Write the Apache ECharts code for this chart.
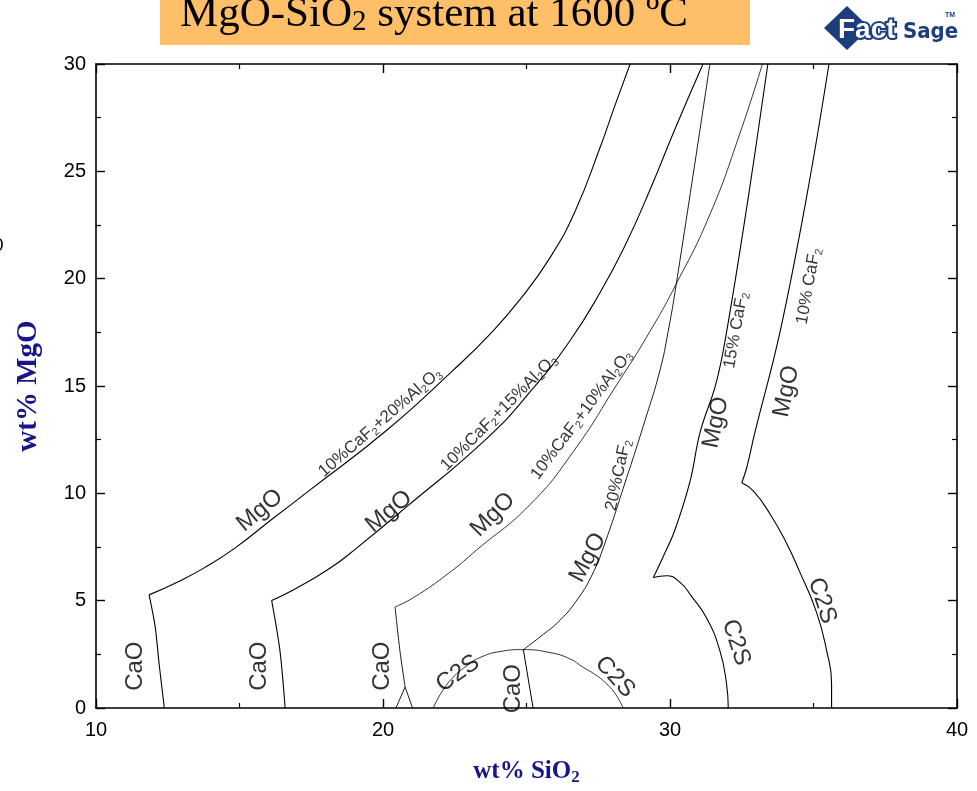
<!DOCTYPE html>
<html>
<head>
<meta charset="utf-8">
<title>MgO-SiO2 system at 1600 ºC</title>
<script src="https://cdn.jsdelivr.net/npm/echarts/dist/echarts.min.js"></script>
<style>
  html, body { margin: 0; padding: 0; background: #fff; }
  #chart { width: 977px; height: 791px; }
</style>
</head>
<body>
<div id="chart"></div>
<script>
// Axis ticks
const xTicks = [10, 20, 30, 40];   // wt% SiO2
const yTicks = [0, 5, 10, 15, 20, 25, 30]; // wt% MgO

// Phase boundaries, points are [wt% SiO2, wt% MgO]
// 10% CaF2 + 20% Al2O3
const al20CaO = [[12.38, 0], [12.2, 2.05], [12.06, 3.8], [11.85, 5.27]];
const al20MgO = [[11.85, 5.27], [12.81, 5.85], [13.8, 6.55], [14.84, 7.45], [16.13, 8.79],
  [17.46, 10.16], [20.14, 12.95], [22.44, 15.73], [23.73, 17.42], [24.77, 19.02],
  [25.82, 20.98], [26.69, 23.13], [27.56, 26.1], [28.08, 28.06], [28.61, 30]];
// 10% CaF2 + 15% Al2O3
const al15CaO = [[16.59, 0], [16.41, 2.66], [16.12, 5.01]];
const al15MgO = [[16.12, 5.01], [16.87, 5.5], [18.15, 6.51], [19.08, 7.45], [20.83, 9.38],
  [23.61, 12.55], [25.24, 14.91], [26.52, 17.12], [27.56, 19.34], [28.43, 21.53],
  [29.3, 24.13], [30.17, 26.96], [31.15, 30]];
// 10% CaF2 + 10% Al2O3
const al10CaO = [[20.42, 4.71], [20.59, 2.66], [20.77, 0.98]];
const al10Foot = [[20.45, 0], [20.77, 0.98], [21.03, 0]];
const al10MgO = [[20.42, 4.71], [21.06, 5.14], [22.33, 6.32], [23.27, 7.37], [25.12, 9.47],
  [26.63, 11.94], [28.14, 15.05], [29.19, 17.29], [30.23, 19.79], [31.39, 22.99],
  [32.44, 26.78], [33.22, 30]];
// 20% CaF2
const f20MgO = [[31.39, 30], [30.23, 19.85], [29.93, 17.5], [29.65, 15.73], [29.13, 13.4],
  [28.43, 10.48], [27.7, 7.56], [27.28, 6.19], [26.79, 5.09], [26.17, 4.09], [25.47, 3.31],
  [24.89, 2.72]];
const f20C2S = [[21.75, 0], [22.05, 0.75], [22.45, 1.44], [22.9, 1.95], [23.38, 2.35],
  [24.08, 2.63], [24.89, 2.72], [25.82, 2.58], [26.5, 2.3], [26.98, 1.89], [27.4, 1.55],
  [27.79, 1.13], [28.1, 0.65], [28.37, 0]];
const f20CaO = [[24.89, 2.72], [25.23, 0]];
// 15% CaF2
const f15MgO = [[33.41, 30], [32.73, 23.81], [31.97, 17.5], [31.6, 15.1], [31.05, 12.85],
  [30.7, 10.57], [30.17, 8.29], [29.77, 7.07], [29.42, 6.08]];
const f15C2S = [[29.42, 6.08], [29.88, 6.16], [30.35, 5.85], [30.75, 5.2], [31.28, 4.18],
  [31.74, 2.66], [31.97, 1.13], [32.03, 0]];
// 10% CaF2
const f10MgO = [[35.54, 30], [34.76, 23.81], [33.83, 17.5], [32.96, 12.85], [32.67, 11.18],
  [32.5, 10.49]];
const f10C2S = [[32.5, 10.49], [32.9, 10.11], [33.48, 9.05], [34.06, 7.68], [34.5, 6.4],
  [35.1, 4.48], [35.46, 2.66], [35.63, 1.13], [35.63, 0]];

// Field and composition labels: text, anchor [wt% SiO2, wt% MgO], tilt in degrees
const labelText = ['CaO', 'CaO', 'CaO', 'CaO',
  'MgO', 'MgO', 'MgO', 'MgO', 'MgO', 'MgO',
  'C2S', 'C2S', 'C2S', 'C2S',
  '10%CaF{s|2}+20%Al{s|2}O{s|3}', '10%CaF{s|2}+15%Al{s|2}O{s|3}', '10%CaF{s|2}+10%Al{s|2}O{s|3}',
  '20%CaF{s|2}', '15% CaF{s|2}', '10% CaF{s|2}'];
const labelAt = [[11.38, 1.95], [15.68, 1.95], [19.98, 1.95], [24.56, 0.9],
  [15.71, 9.2], [20.21, 9.15], [23.83, 9.0], [27.14, 7.0], [31.6, 13.3], [34.06, 14.75],
  [22.61, 1.6], [28.08, 1.45], [32.3, 3.05], [35.3, 5.0],
  [19.9, 13.3], [24.04, 13.75], [26.92, 13.65],
  [28.2, 10.85], [32.3, 17.6], [34.83, 19.65]];
const labelTilt = [90, 90, 90, 90,
  40, 40, 45, 62, 78, 78,
  35, -48, -72, -72,
  41, 45, 53,
  78, 80, 80];
const labelSmall = [false, false, false, false,
  false, false, false, false, false, false,
  false, false, false, false,
  true, true, true, true, true, true];

const chart = echarts.init(document.getElementById('chart'), null, { renderer: 'canvas' });

const ink = '#000';
const navy = '#16168a';
const logoBlue = '#1c3e7c';
const sans = '"Liberation Sans", Arial, sans-serif';
const serif = '"Liberation Serif", "Times New Roman", serif';

function boundary(data, width, smooth) {
  return {
    type: 'line', data: data, symbol: 'none', smooth: smooth,
    lineStyle: { color: ink, width: width }, silent: true, animation: false, z: 3
  };
}

const series = [
  boundary(al20CaO, 1.1, 0.3), boundary(al20MgO, 1.1, 0.5),
  boundary(al15CaO, 1.1, 0.3), boundary(al15MgO, 1.1, 0.5),
  boundary(al10CaO, 0.9, 0.3), boundary(al10Foot, 0.9, false), boundary(al10MgO, 0.8, 0.5),
  boundary(f20MgO, 0.9, 0.5), boundary(f20C2S, 0.8, 0.5), boundary(f20CaO, 1.0, false),
  boundary(f15MgO, 1.1, 0.4), boundary(f15C2S, 1.1, 0.5),
  boundary(f10MgO, 1.1, 0.4), boundary(f10C2S, 1.1, 0.5),
  {
    type: 'scatter', symbolSize: 1, itemStyle: { color: 'transparent' }, silent: true,
    animation: false, z: 5,
    data: labelAt.map(function (p, i) {
      const size = labelSmall[i] ? 17 : 24;
      return {
        value: p,
        label: {
          formatter: labelText[i], rotate: labelTilt[i], fontSize: size,
          lineHeight: Math.round(size * 1.15)
        }
      };
    }),
    label: {
      show: true, position: 'inside', color: ink, fontFamily: sans,
      align: 'center', verticalAlign: 'middle',
      rich: { s: { fontSize: 11, fontFamily: sans, color: ink, verticalAlign: 'bottom', lineHeight: 7 } }
    }
  }
];

function xAxisOf(pos, labels) {
  return {
    type: 'value', min: 10, max: 40, interval: 10, position: pos,
    axisLine: { show: true, onZero: false, lineStyle: { color: ink, width: 1.6 } },
    axisTick: { show: true, inside: true, length: 9, lineStyle: { color: ink, width: 1.4 } },
    minorTick: { show: true, splitNumber: 2, length: 5, lineStyle: { color: ink, width: 1.2 } },
    splitLine: { show: false },
    axisLabel: {
      show: labels, color: ink, fontSize: 20, fontFamily: sans, margin: 12,
      formatter: function (v) { return xTicks.indexOf(v) >= 0 ? String(v) : ''; }
    },
    name: labels ? 'wt% SiO{s|2}' : '',
    nameLocation: 'middle', nameGap: 50,
    nameTextStyle: {
      color: navy, fontFamily: serif, fontWeight: 'bold', fontSize: 25, lineHeight: 28,
      rich: { s: { color: navy, fontFamily: serif, fontWeight: 'bold', fontSize: 17, verticalAlign: 'bottom', lineHeight: 6 } }
    }
  };
}

function yAxisOf(pos, labels) {
  return {
    type: 'value', min: 0, max: 30, interval: 5, position: pos,
    axisLine: { show: true, onZero: false, lineStyle: { color: ink, width: 1.6 } },
    axisTick: { show: true, inside: true, length: 9, lineStyle: { color: ink, width: 1.4 } },
    minorTick: { show: true, splitNumber: 2, length: 5, lineStyle: { color: ink, width: 1.2 } },
    splitLine: { show: false },
    axisLabel: {
      show: labels, color: ink, fontSize: 20, fontFamily: sans, margin: 10,
      formatter: function (v) { return yTicks.indexOf(v) >= 0 ? String(v) : ''; }
    },
    name: labels ? 'wt% MgO' : '',
    nameLocation: 'middle', nameGap: 53,
    nameTextStyle: { color: navy, fontFamily: serif, fontWeight: 'bold', fontSize: 29 }
  };
}

chart.setOption({
  backgroundColor: '#fff',
  animation: false,
  grid: { left: 96, right: 20, top: 64, bottom: 69, containLabel: false },
  xAxis: [xAxisOf('bottom', true), xAxisOf('top', false)],
  yAxis: [yAxisOf('left', true), yAxisOf('right', false)],
  series: series,
  graphic: [
    // title banner
    { type: 'rect', shape: { x: 160, y: -2, width: 590, height: 47 }, style: { fill: '#FEBF68' }, z: 10 },
    {
      type: 'text', x: 180, y: 15, z: 11,
      style: {
        text: '{m|MgO-SiO}{s|2}{m| system at 1600 ºC}',
        verticalAlign: 'middle', align: 'left',
        rich: {
          m: { fontSize: 43, fontFamily: serif, fill: '#000', lineHeight: 43 },
          s: { fontSize: 29, fontFamily: serif, fill: '#000', verticalAlign: 'bottom', lineHeight: 5 }
        }
      }
    },
    // FactSage mark
    { type: 'polygon', shape: { points: [[847, 6], [870, 28], [847, 50], [824, 28]] }, style: { fill: logoBlue }, z: 10 },
    {
      type: 'text', x: 838, y: 30, z: 11,
      style: { text: 'Fact', fontSize: 28, fontWeight: 'bold', fontFamily: sans, fill: '#fff', stroke: logoBlue, lineWidth: 4, verticalAlign: 'middle' }
    },
    {
      type: 'text', x: 903, y: 32, z: 11,
      style: { text: 'Sage', fontSize: 22, fontWeight: 'bold', fontFamily: '"DejaVu Sans Condensed", "Liberation Sans Narrow", sans-serif', fill: logoBlue, verticalAlign: 'middle' }
    },
    {
      type: 'text', x: 945, y: 15, z: 11,
      style: { text: 'TM', fontSize: 7, fontWeight: 'bold', fontFamily: sans, fill: logoBlue, verticalAlign: 'middle' }
    },
    // clipped tick label at the left edge
    { type: 'text', x: -7, y: 246, style: { text: '0', fontSize: 19, fontFamily: sans, fill: '#000', verticalAlign: 'middle' } }
  ]
});
</script>
</body>
</html>
